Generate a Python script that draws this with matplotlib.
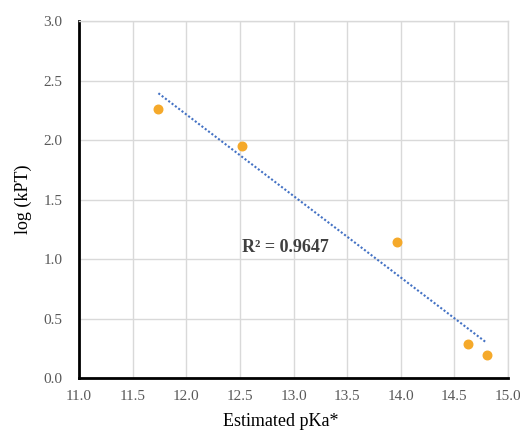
import numpy as np
import matplotlib.pyplot as plt

# estimated pKa* vs log(kPT)
pka = [11.74, 12.52, 13.96, 14.63, 14.80]
log_kpt = [2.26, 1.95, 1.14, 0.29, 0.196]
r2_label = "R² = 0.9647"

plt.rcParams['font.family'] = ['Liberation Serif', 'DejaVu Serif']

fig = plt.figure(figsize=(5.2, 4.32), dpi=100)
ax = fig.add_axes([0.152, 0.125, 0.825, 0.826])

ax.scatter(pka, log_kpt, s=38, color='#F5A92A', zorder=3)

# linear trendline
slope, icpt = np.polyfit(pka, log_kpt, 1)
xs = np.array([min(pka), max(pka)])
ax.plot(xs, slope * xs + icpt, linestyle=(0, (1, 1)), color='#4472C4', lw=1.5, zorder=2)

ax.text(12.52, 1.10, r2_label, fontsize=13, fontweight='bold', color='#404040', va='center')

ax.set_xlim(11, 15)
ax.set_ylim(0, 3)
ax.set_xticks(np.arange(11, 15.01, 0.5))
ax.set_yticks(np.arange(0, 3.01, 0.5))
ax.set_xticklabels([f"{v:.1f}" for v in np.arange(11, 15.01, 0.5)])
ax.set_yticklabels([f"{v:.1f}" for v in np.arange(0, 3.01, 0.5)])
ax.grid(True, color='#d9d9d9', lw=1)
ax.set_axisbelow(True)
ax.tick_params(length=0, labelsize=11, labelcolor='#595959')
ax.tick_params(axis='x', pad=9)
ax.tick_params(axis='y', pad=12)

for s in ['top', 'right']:
    ax.spines[s].set_color('#d9d9d9')
    ax.spines[s].set_linewidth(1)
for s in ['left', 'bottom']:
    ax.spines[s].set_color('black')
    ax.spines[s].set_linewidth(2)

ax.set_xlabel('Estimated pKa*', fontsize=13)
ax.xaxis.set_label_coords(0.47, -0.097)
ax.set_ylabel('log (kPT)', fontsize=13)
ax.yaxis.set_label_coords(-0.11, 0.5)

fig.savefig('out.png', dpi=100)
